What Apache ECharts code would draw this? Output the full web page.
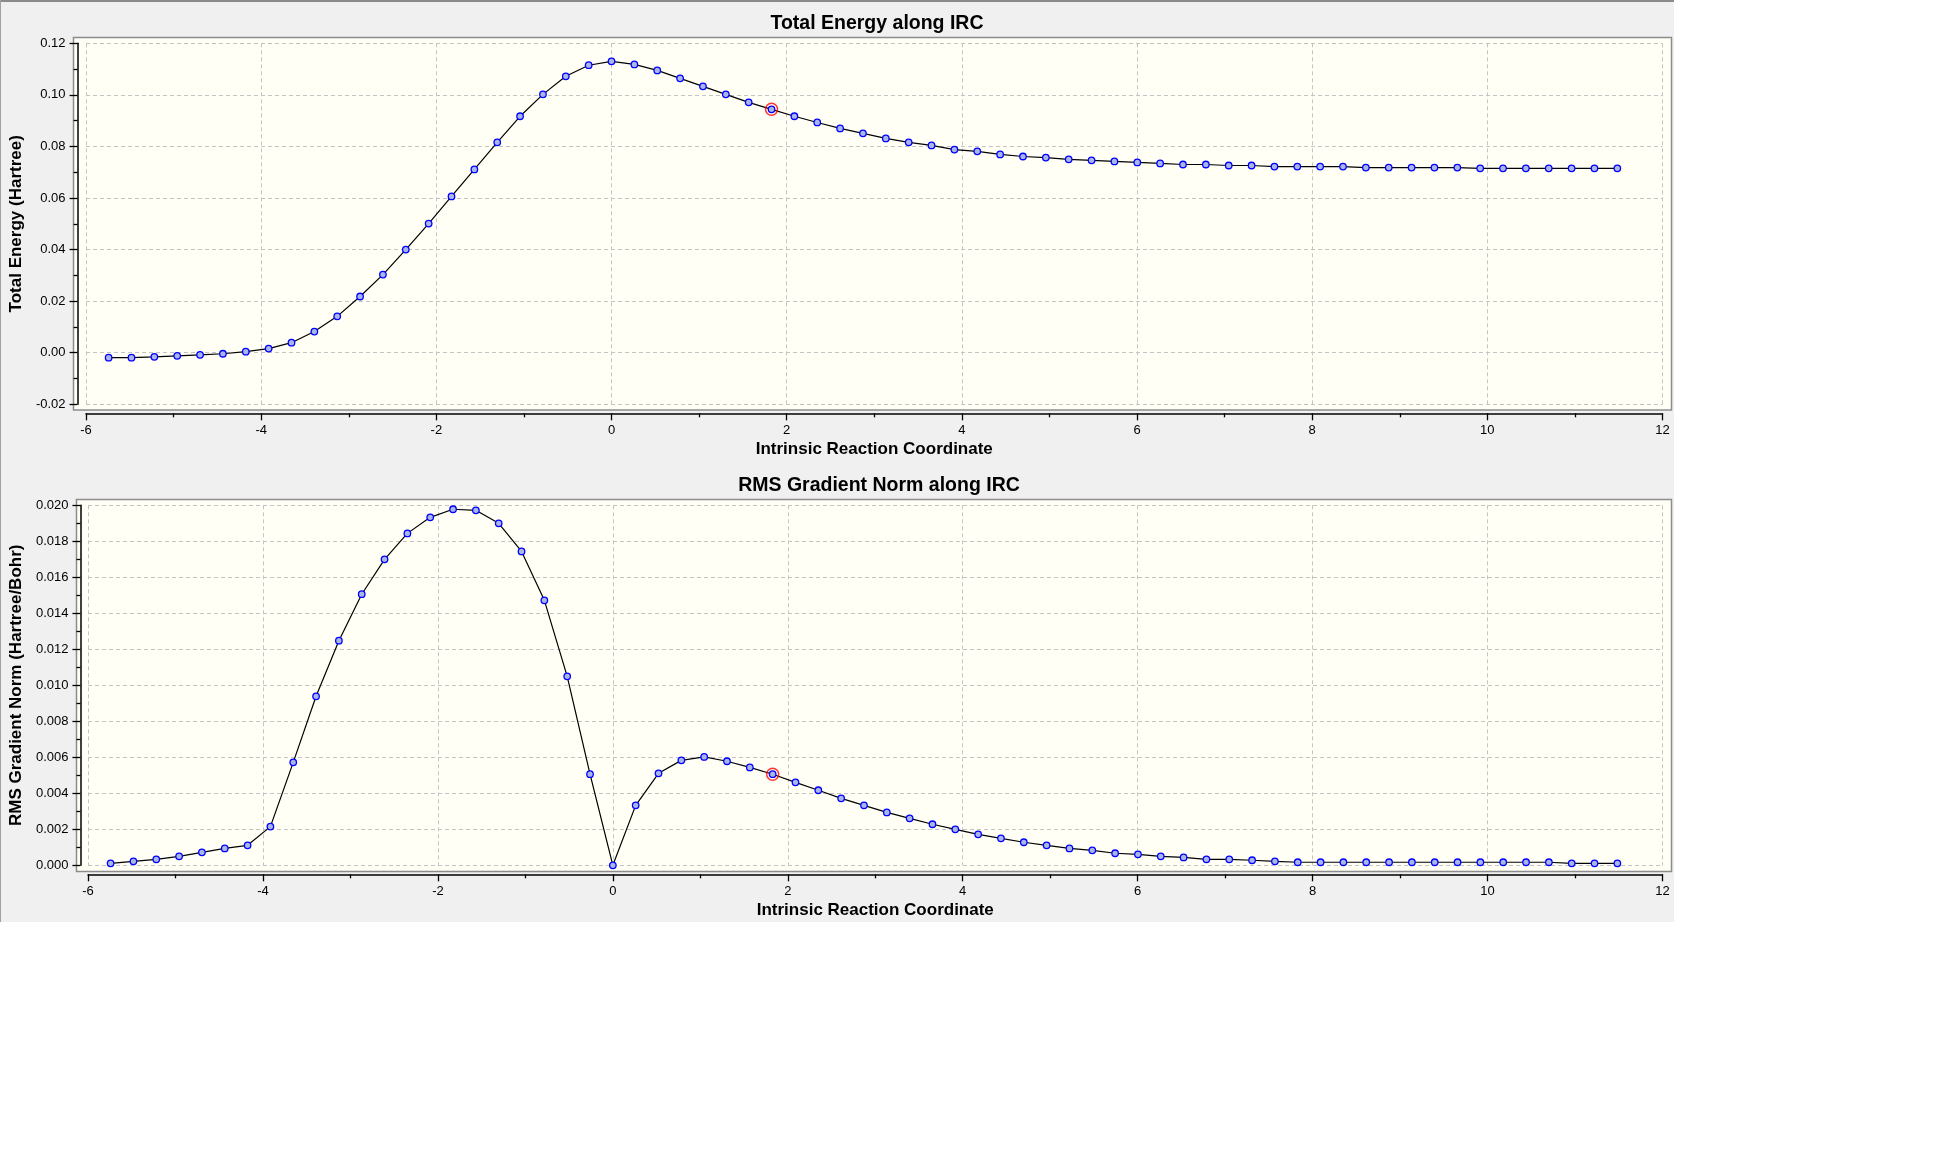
<!DOCTYPE html>
<html>
<head>
<meta charset="utf-8">
<script src="https://cdn.jsdelivr.net/npm/echarts@6/dist/echarts.min.js"></script>
<style>
html,body{margin:0;padding:0;background:#ffffff;}
#chart{width:1945px;height:1170px;}
</style>
</head>
<body>
<div id="chart"></div>
<script>
// ---- data ----
const ircCoord = [
  -5.742,-5.481,-5.220,-4.959,-4.698,-4.437,-4.176,-3.915,-3.654,-3.393,-3.132,
  -2.871,-2.610,-2.349,-2.088,-1.827,-1.566,-1.305,-1.044,-0.783,-0.522,-0.261,
  0.000,0.261,0.522,0.783,1.044,1.305,1.566,1.827,2.088,2.349,2.610,2.871,3.132,
  3.393,3.654,3.915,4.176,4.437,4.698,4.959,5.220,5.481,5.742,6.003,6.264,6.525,
  6.786,7.047,7.308,7.569,7.830,8.091,8.352,8.613,8.874,9.135,9.396,9.657,9.918,
  10.179,10.440,10.701,10.962,11.223,11.484
];
const totalEnergy = [
  -0.0019,-0.0019,-0.0016,-0.0012,-0.0008,-0.0004,0.0004,0.0016,0.0039,0.0082,0.0141,
  0.0218,0.0303,0.0400,0.0501,0.0606,0.0711,0.0816,0.0917,0.1002,0.1072,0.1115,
  0.1130,0.1118,0.1095,0.1064,0.1033,0.1002,0.0971,0.0944,0.0917,0.0893,0.0870,0.0851,0.0831,
  0.0816,0.0804,0.0788,0.0781,0.0769,0.0761,0.0757,0.0750,0.0746,0.0742,0.0738,0.0734,0.0730,
  0.0730,0.0726,0.0726,0.0722,0.0722,0.0722,0.0722,0.0718,0.0718,0.0718,0.0718,0.0718,0.0715,
  0.0715,0.0715,0.0715,0.0715,0.0715,0.0715
];
const rmsGradient = [
  0.00011,0.00022,0.00033,0.00050,0.00072,0.00094,0.00111,0.00215,0.00572,0.00939,0.01248,
  0.01506,0.01700,0.01844,0.01933,0.01978,0.01972,0.01900,0.01744,0.01472,0.01050,0.00506,
  0.00000,0.00333,0.00511,0.00583,0.00602,0.00578,0.00544,0.00506,0.00461,0.00417,0.00372,0.00333,0.00294,
  0.00261,0.00228,0.00200,0.00172,0.00150,0.00128,0.00111,0.00094,0.00083,0.00067,0.00061,0.00050,0.00044,
  0.00033,0.00033,0.00028,0.00022,0.00017,0.00017,0.00017,0.00017,0.00017,0.00017,0.00017,0.00017,0.00017,
  0.00017,0.00017,0.00017,0.00011,0.00011,0.00011
];
const currentPointIndex = 29;   // red-circled point (IRC ≈ 1.83)
const titles = ['Total Energy along IRC', 'RMS Gradient Norm along IRC'];
const xAxisName = 'Intrinsic Reaction Coordinate';
const yAxisNames = ['Total Energy (Hartree)', 'RMS Gradient Norm (Hartree/Bohr)'];
const xRange = [-6, 12, 2];
const energyRange = [-0.02, 0.12, 0.02];
const gradientRange = [0, 0.02, 0.002];

// ---- chart ----
const FONT = '"Liberation Sans", Arial, sans-serif';
const chart = echarts.init(document.getElementById('chart'), null, {renderer: 'canvas'});

const pairs = (ys) => ircCoord.map((x, i) => [x, ys[i]]);

function xAxisCfg(gridIndex) {
  return {
    type: 'value', gridIndex,
    min: xRange[0], max: xRange[1], interval: xRange[2],
    offset: 9,
    name: xAxisName, nameLocation: 'middle', nameGap: 28,
    nameTextStyle: {fontFamily: FONT, fontSize: 17, fontWeight: 'bold', color: '#000'},
    axisLine: {show: true, onZero: false, lineStyle: {color: '#000', width: 1.5}},
    axisTick: {show: true, length: 7, lineStyle: {color: '#000', width: 1.3}},
    minorTick: {show: true, splitNumber: 2, length: 4, lineStyle: {color: '#000', width: 1.3}},
    axisLabel: {fontFamily: FONT, fontSize: 13, color: '#000', margin: 11},
    splitLine: {show: true, lineStyle: {color: '#c4c4c4', type: [4, 3], width: 1}}
  };
}
function yAxisCfg(gridIndex, range, dec, name, gap, off) {
  return {
    type: 'value', gridIndex,
    min: range[0], max: range[1], interval: range[2],
    offset: off,
    name: name, nameLocation: 'middle', nameGap: gap,
    nameTextStyle: {fontFamily: FONT, fontSize: 17, fontWeight: 'bold', color: '#000'},
    axisLine: {show: true, onZero: false, lineStyle: {color: '#000', width: 1.5}},
    axisTick: {show: true, length: 8, lineStyle: {color: '#000', width: 1.3}},
    minorTick: {show: true, splitNumber: 2, length: 4, lineStyle: {color: '#000', width: 1.3}},
    axisLabel: {fontFamily: FONT, fontSize: 13, color: '#000', margin: 12,
      formatter: (v) => v.toFixed(dec)},
    splitLine: {show: true, lineStyle: {color: '#c4c4c4', type: [4, 3], width: 1}}
  };
}
function lineSeries(idx, ys) {
  return {
    type: 'line', xAxisIndex: idx, yAxisIndex: idx,
    data: pairs(ys), smooth: false,
    symbol: 'circle', symbolSize: 6.5, showAllSymbol: true,
    lineStyle: {color: '#000', width: 1.2},
    itemStyle: {color: '#aab6e8', borderColor: '#0000ff', borderWidth: 1.3},
    emphasis: {disabled: true}, animation: false, z: 3
  };
}
function markSeries(idx, ys) {
  return {
    type: 'scatter', xAxisIndex: idx, yAxisIndex: idx,
    data: [[ircCoord[currentPointIndex], ys[currentPointIndex]]],
    symbol: 'circle', symbolSize: 12,
    itemStyle: {color: 'rgba(0,0,0,0)', borderColor: '#ff0000', borderWidth: 1.5},
    emphasis: {disabled: true}, animation: false, z: 4
  };
}

chart.setOption({
  animation: false,
  backgroundColor: '#ffffff',
  graphic: {elements: [
    {type: 'rect', z: -10, silent: true, shape: {x: 0, y: 0, width: 1674, height: 922}, style: {fill: '#f0f0f0'}},
    {type: 'rect', z: -9, silent: true, shape: {x: 0, y: 0, width: 1674, height: 2}, style: {fill: '#8a8a8a'}},
    {type: 'rect', z: -9, silent: true, shape: {x: 0, y: 0, width: 1, height: 922}, style: {fill: '#a0a0a0'}},
    {type: 'rect', z: -8, silent: true, shape: {x: 73.5, y: 37.5, width: 1598, height: 372.5},
      style: {fill: '#fffff5', stroke: '#8c8c8c', lineWidth: 1.5}},
    {type: 'rect', z: -8, silent: true, shape: {x: 76.5, y: 499.5, width: 1595, height: 372},
      style: {fill: '#fffff5', stroke: '#8c8c8c', lineWidth: 1.5}}
  ]},
  title: [
    {text: titles[0], left: 872, top: 19, textAlign: 'center', textVerticalAlign: 'middle',
      textStyle: {fontFamily: FONT, fontSize: 19.5, fontWeight: 'bold', color: '#000'}},
    {text: titles[1], left: 874, top: 481, textAlign: 'center', textVerticalAlign: 'middle',
      textStyle: {fontFamily: FONT, fontSize: 19.5, fontWeight: 'bold', color: '#000'}}
  ],
  grid: [
    {left: 78.5, width: 1584, top: 43.3, height: 361},
    {left: 81.3, width: 1581.2, top: 505.3, height: 360}
  ],
  xAxis: [xAxisCfg(0), xAxisCfg(1)],
  yAxis: [
    yAxisCfg(0, energyRange, 2, yAxisNames[0], 42, 8.5),
    yAxisCfg(1, gradientRange, 3, yAxisNames[1], 45, 7.6)
  ],
  series: [
    lineSeries(0, totalEnergy), markSeries(0, totalEnergy),
    lineSeries(1, rmsGradient), markSeries(1, rmsGradient)
  ]
});
</script>
</body>
</html>
